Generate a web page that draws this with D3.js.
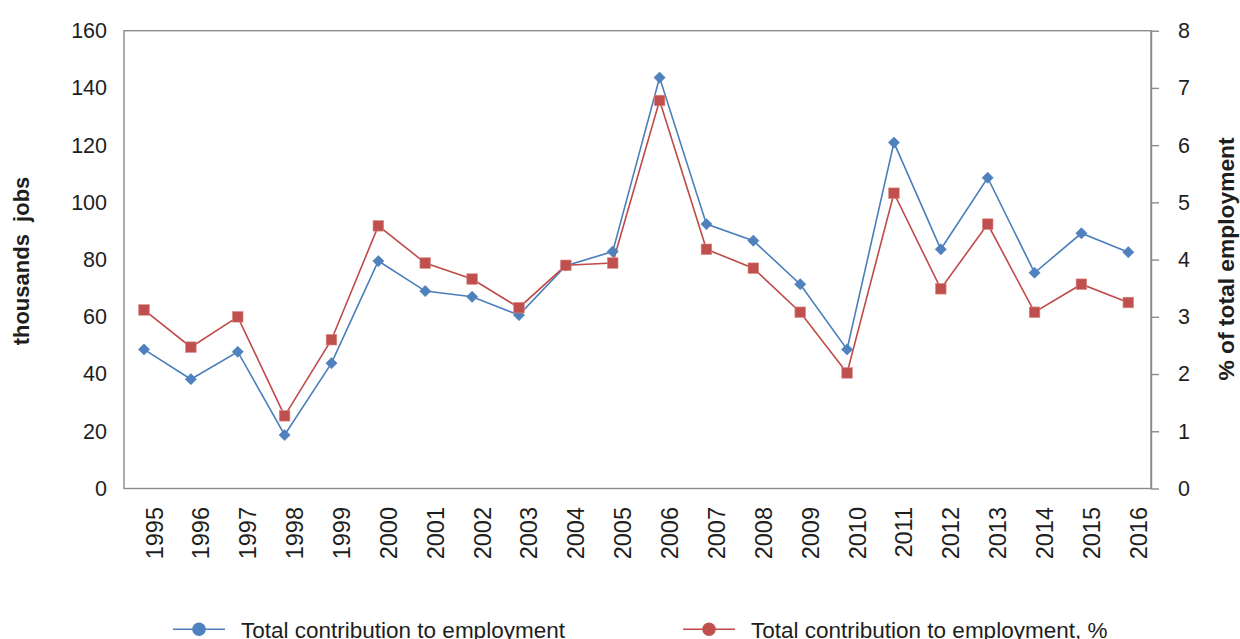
<!DOCTYPE html>
<html>
<head>
<meta charset="utf-8">
<script src="https://cdn.jsdelivr.net/npm/d3@7"></script>
<style>
  html, body { margin: 0; padding: 0; background: #fff; }
  svg { display: block; font-family: "Liberation Sans", Arial, sans-serif; }
</style>
</head>
<body>
<svg id="chart" width="1240" height="639"></svg>
<script>
// Years on the category axis
const years = [1995, 1996, 1997, 1998, 1999, 2000, 2001, 2002, 2003, 2004, 2005,
               2006, 2007, 2008, 2009, 2010, 2011, 2012, 2013, 2014, 2015, 2016];

// Total contribution to employment, thousands of jobs (left axis)
const jobs = [48.6, 38.2, 47.8, 18.7, 43.8, 79.5, 69.0, 67.0, 60.6, 77.9, 82.8,
              143.6, 92.4, 86.6, 71.4, 48.6, 120.9, 83.6, 108.6, 75.4, 89.2, 82.6];

// Total contribution to employment, % of total employment (right axis)
const share = [3.12, 2.47, 3.00, 1.27, 2.60, 4.59, 3.94, 3.66, 3.16, 3.90, 3.94,
               6.78, 4.18, 3.85, 3.08, 2.02, 5.16, 3.49, 4.62, 3.08, 3.57, 3.25];

const leftTicks = [0, 20, 40, 60, 80, 100, 120, 140, 160];
const rightTicks = [0, 1, 2, 3, 4, 5, 6, 7, 8];

const seriesNames = ["Total contribution to employment", "Total contribution to employment, %"];

const svg = d3.select("#chart");
const frame = { left: 124, right: 1151, top: 30.7, bottom: 488.5 };
const axisColor = "#8a8a8a";
const textColor = "#1e1e1e";
const blueLine = "#4a7ebb", blueFill = "#4f81bd";
const redLine = "#be4b48", redFill = "#c0504d";

const x = d3.scalePoint().domain(years).range([144, 1128.3]);
const yL = d3.scaleLinear().domain([0, 160]).range([frame.bottom, frame.top]);
const yR = d3.scaleLinear().domain([0, 8]).range([frame.bottom, frame.top]);

// Plot frame
svg.append("rect")
  .attr("x", frame.left).attr("y", frame.top)
  .attr("width", frame.right - frame.left).attr("height", frame.bottom - frame.top)
  .attr("fill", "none").attr("stroke", axisColor).attr("stroke-width", 1.4);

// Left axis (labels only)
const gL = svg.append("g")
  .attr("transform", `translate(${frame.left},0)`)
  .call(d3.axisLeft(yL).tickValues(leftTicks).tickSize(0).tickPadding(17));
gL.select(".domain").remove();
gL.selectAll("text").attr("font-size", 21.5).attr("fill", textColor)
  .attr("font-family", "'Liberation Sans', Arial, sans-serif");

// Right axis with outward ticks
const gR = svg.append("g")
  .attr("transform", `translate(${frame.right},0)`)
  .call(d3.axisRight(yR).tickValues(rightTicks).tickSize(8).tickSizeOuter(0).tickPadding(19));
gR.select(".domain").attr("stroke", axisColor).attr("stroke-width", 1.4);
gR.selectAll(".tick line").attr("stroke", axisColor).attr("stroke-width", 1.4);
gR.selectAll("text").attr("font-size", 21.5).attr("fill", textColor)
  .attr("font-family", "'Liberation Sans', Arial, sans-serif");

// Category axis: vertical year labels
const gX = svg.append("g")
  .attr("transform", `translate(0,${frame.bottom})`)
  .call(d3.axisBottom(x).tickSize(0));
gX.select(".domain").remove();
gX.selectAll("text")
  .attr("x", 0).attr("y", 0).attr("dy", null)
  .attr("text-anchor", "end")
  .attr("transform", "translate(18,18.5) rotate(-90)")
  .attr("font-size", 23.5).attr("fill", textColor)
  .attr("font-family", "'Liberation Sans', Arial, sans-serif");

// Axis titles
svg.append("text")
  .attr("transform", "translate(28.5,261) rotate(-90)")
  .attr("text-anchor", "middle").attr("font-weight", "bold")
  .attr("font-size", 22).attr("fill", textColor)
  .attr("xml:space", "preserve")
  .text("thousands  jobs");

svg.append("text")
  .attr("transform", "translate(1234,259) rotate(-90)")
  .attr("text-anchor", "middle").attr("font-weight", "bold")
  .attr("font-size", 22.8).attr("fill", textColor)
  .text("% of total employment");

// Series lines
const lineL = d3.line().x((d, i) => x(years[i])).y(d => yL(d));
const lineR = d3.line().x((d, i) => x(years[i])).y(d => yR(d));

svg.append("path").datum(jobs).attr("d", lineL)
  .attr("fill", "none").attr("stroke", blueLine).attr("stroke-width", 1.6);
svg.append("path").datum(share).attr("d", lineR)
  .attr("fill", "none").attr("stroke", redLine).attr("stroke-width", 1.6);

// Markers: diamonds for jobs, squares for share
const diamond = 5.6, sq = 5.3;
svg.append("g").selectAll("path").data(jobs).join("path")
  .attr("d", (d, i) => {
    const cx = x(years[i]), cy = yL(d);
    return `M${cx},${cy - diamond}L${cx + diamond},${cy}L${cx},${cy + diamond}L${cx - diamond},${cy}Z`;
  })
  .attr("fill", blueFill).attr("stroke", blueLine).attr("stroke-width", 0.6);

svg.append("g").selectAll("rect").data(share).join("rect")
  .attr("x", (d, i) => x(years[i]) - sq)
  .attr("y", d => yR(d) - sq)
  .attr("width", sq * 2).attr("height", sq * 2)
  .attr("fill", redFill).attr("stroke", "#d98b89").attr("stroke-width", 0.6);

// Legend
const legendItems = [
  { name: seriesNames[0], line: blueLine, fill: blueFill, x0: 173 },
  { name: seriesNames[1], line: redLine, fill: redFill, x0: 683 }
];
const lg = svg.append("g").selectAll("g").data(legendItems).join("g")
  .attr("transform", d => `translate(${d.x0},629.3)`);
lg.append("line").attr("x1", 0).attr("x2", 52).attr("y1", 0).attr("y2", 0)
  .attr("stroke", d => d.line).attr("stroke-width", 1.6);
lg.append("circle").attr("cx", 26).attr("cy", 0).attr("r", 6.8)
  .attr("fill", d => d.fill);
lg.append("text").attr("x", 68).attr("y", 8.3)
  .attr("font-size", 22.5).attr("fill", textColor)
  .text(d => d.name);
</script>
</body>
</html>
